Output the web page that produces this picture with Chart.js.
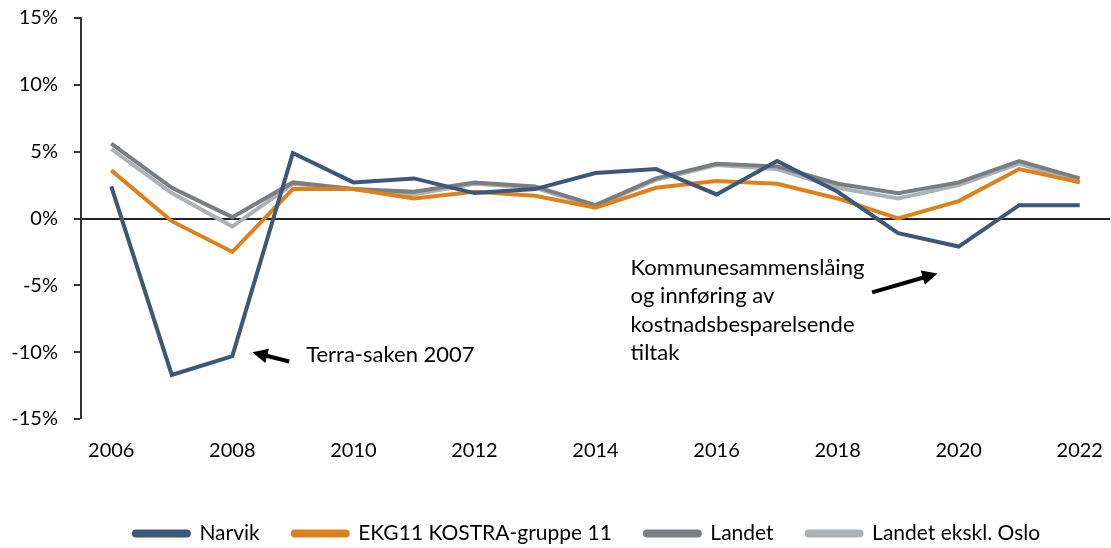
<!DOCTYPE html>
<html>
<head>
<meta charset="utf-8">
<script src="https://cdn.jsdelivr.net/npm/chart.js@4.4.1/dist/chart.umd.min.js"></script>
<style>
  html, body { margin: 0; padding: 0; background: #fff; }
  #wrap { width: 1111px; height: 548px; }
</style>
</head>
<body>
<div id="wrap"><canvas id="chart"></canvas></div>
<script>
const years = ['2006','2007','2008','2009','2010','2011','2012','2013','2014','2015','2016','2017','2018','2019','2020','2021','2022'];

const narvik = [2.4, -11.7, -10.3, 4.9, 2.7, 3.0, 1.9, 2.2, 3.4, 3.7, 1.8, 4.3, 2.0, -1.1, -2.1, 1.0, 1.0];
const ekg11 = [3.6, -0.2, -2.5, 2.2, 2.2, 1.5, 2.0, 1.7, 0.8, 2.3, 2.8, 2.6, 1.5, 0.0, 1.3, 3.7, 2.7];
const landet = [5.6, 2.3, 0.1, 2.7, 2.2, 2.0, 2.7, 2.4, 1.0, 3.0, 4.1, 3.9, 2.6, 1.9, 2.7, 4.3, 3.0];
const landetEksklOslo = [5.2, 1.9, -0.6, 2.6, 2.2, 1.8, 2.6, 2.3, 0.9, 2.9, 4.0, 3.7, 2.3, 1.5, 2.5, 4.1, 2.7];

const yTicks = [-15, -10, -5, 0, 5, 10, 15];

// notes with arrows, placed in data units (x = category index, y = %)
const notes = [
  { lines: ['Terra-saken 2007'], x: 3.22, y: -10.17, from: [2.94, -10.7], to: [2.33, -10.0] },
  { lines: ['Kommunesammenslåing', 'og innføring av', 'kostnadsbesparelsende', 'tiltak'], x: 8.58, y: -3.66, from: [12.57, -5.53], to: [13.65, -4.11] }
];

const FONT = 'Lato, "Liberation Sans", sans-serif';
const PLOT_TOP = 18;
const PLOT_RIGHT = 1110;

const notePlugin = {
  id: 'notes',
  afterDatasetsDraw(chart) {
    const { ctx, scales: { x, y } } = chart;
    ctx.save();
    notes.forEach(n => {
      ctx.fillStyle = '#000';
      ctx.font = '22px ' + FONT;
      ctx.textBaseline = 'middle';
      ctx.textAlign = 'left';
      const tx = x.getPixelForValue(n.x);
      const ty = y.getPixelForValue(n.y);
      n.lines.forEach((l, i) => ctx.fillText(l, tx, ty + i * 28.5));

      const x1 = x.getPixelForValue(n.from[0]), y1 = y.getPixelForValue(n.from[1]);
      const x2 = x.getPixelForValue(n.to[0]), y2 = y.getPixelForValue(n.to[1]);
      const ang = Math.atan2(y2 - y1, x2 - x1);
      const head = 17;
      ctx.strokeStyle = '#000';
      ctx.lineWidth = 4;
      ctx.beginPath();
      ctx.moveTo(x1, y1);
      ctx.lineTo(x2 - Math.cos(ang) * head * 0.8, y2 - Math.sin(ang) * head * 0.8);
      ctx.stroke();
      ctx.beginPath();
      ctx.moveTo(x2, y2);
      ctx.lineTo(x2 - head * Math.cos(ang - 0.45), y2 - head * Math.sin(ang - 0.45));
      ctx.lineTo(x2 - head * Math.cos(ang + 0.45), y2 - head * Math.sin(ang + 0.45));
      ctx.closePath();
      ctx.fill();
    });
    ctx.restore();
  }
};

// stretch the plot to the top and right edges and nudge the legend box
const layoutTweak = {
  id: 'layoutTweak',
  afterLayout(chart) {
    const { x, y } = chart.scales;
    const area = chart.chartArea;
    const dt = y.top - PLOT_TOP;
    if (dt > 0) {
      y.top -= dt;
      y.height += dt;
      area.top -= dt;
      area.height += dt;
      y.configure();
    }
    const dr = PLOT_RIGHT - x.right;
    if (dr > 0) {
      x.right += dr;
      x.width += dr;
      area.right += dr;
      area.width += dr;
      x.configure();
    }
    const lg = chart.legend;
    if (lg) {
      lg.left += 32; lg.right += 32;
      lg.top += 6; lg.bottom += 6;
    }
  }
};

function series(label, data, color) {
  return {
    label, data,
    borderColor: color,
    backgroundColor: color,
    borderWidth: 4,
    pointRadius: 0,
    tension: 0,
    borderJoinStyle: 'miter'
  };
}

new Chart(document.getElementById('chart'), {
  type: 'line',
  data: {
    labels: years,
    datasets: [
      series('Narvik', narvik, '#3b5878'),
      series('EKG11 KOSTRA-gruppe 11', ekg11, '#df811b'),
      series('Landet', landet, '#7a7e83'),
      series('Landet ekskl. Oslo', landetEksklOslo, '#adb2b7')
    ]
  },
  options: {
    responsive: true,
    maintainAspectRatio: false,
    animation: false,
    layout: { padding: { top: 0, right: 1, left: 0, bottom: 0 } },
    plugins: {
      legend: {
        position: 'bottom',
        labels: {
          boxWidth: 55,
          boxHeight: 4,
          useBorderRadius: true,
          borderRadius: 2,
          padding: 33,
          color: '#000',
          font: { family: FONT, size: 21 }
        }
      },
      tooltip: { enabled: false }
    },
    scales: {
      x: {
        offset: true,
        border: { display: false },
        grid: { display: false, drawTicks: false },
        ticks: {
          autoSkip: false,
          maxRotation: 0,
          padding: 20,
          color: '#000',
          font: { family: FONT, size: 20 },
          callback: (v, i) => (i % 2 === 0 ? years[i] : '')
        },
        afterFit: s => { s.height = 65; }
      },
      y: {
        min: -15,
        max: 15,
        afterBuildTicks: s => { s.ticks = yTicks.map(v => ({ value: v })); },
        afterFit: s => { s.width = 81; },
        border: { display: true, color: '#333', width: 2 },
        grid: {
          drawOnChartArea: true,
          color: c => (c.tick && c.tick.value === 0 ? '#222' : 'rgba(0,0,0,0)'),
          lineWidth: c => (c.tick && c.tick.value === 0 ? 2 : 0),
          tickColor: '#333',
          tickLength: 7,
          tickWidth: 2
        },
        ticks: {
          padding: 16,
          color: '#000',
          font: { family: FONT, size: 20 },
          callback: v => v + '%'
        }
      }
    }
  },
  plugins: [notePlugin, layoutTweak]
});
</script>
</body>
</html>
